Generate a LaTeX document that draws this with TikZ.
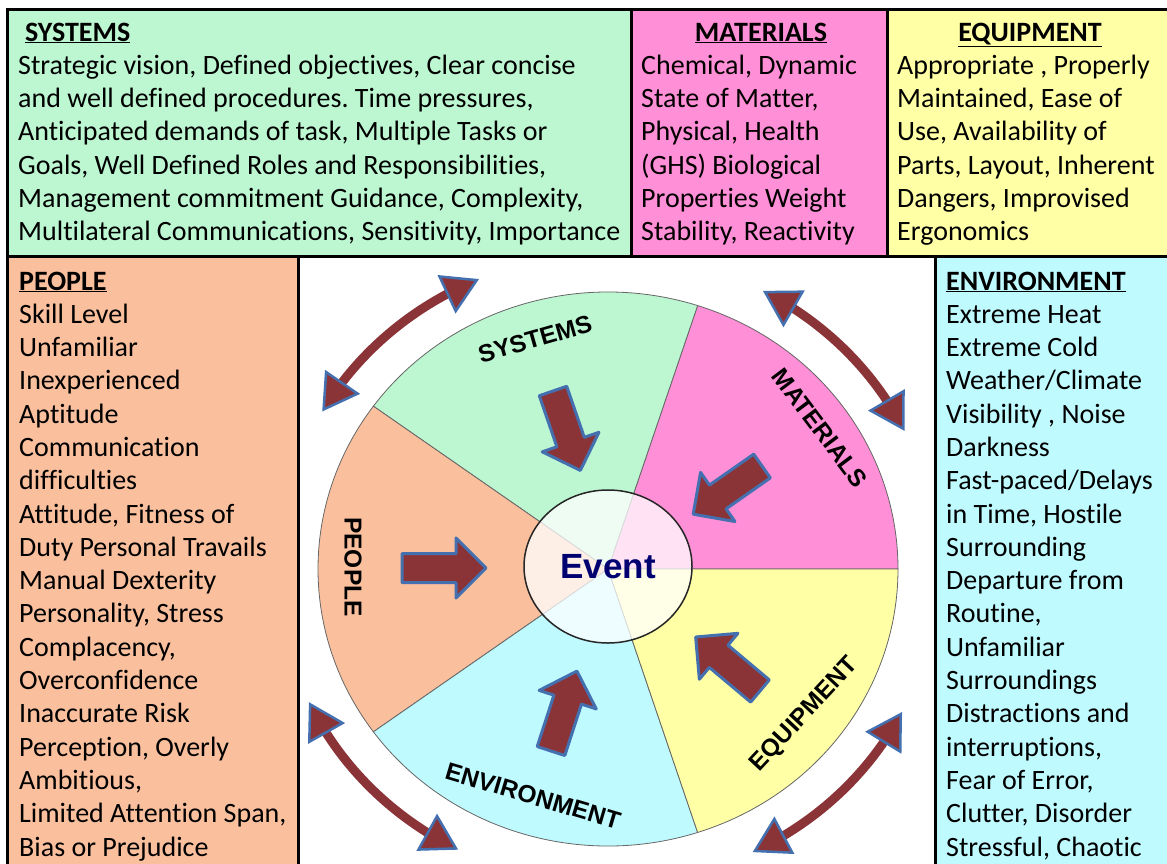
\documentclass[tikz,border=0pt]{standalone}
\usepackage{fontspec}
\setmainfont{Carlito}[Ligatures=NoCommon]
\newfontfamily\wheelfont{Liberation Sans}
\usetikzlibrary{shapes.geometric,arrows.meta,bending}
\frenchspacing

\definecolor{sysgreen}{RGB}{189,247,210}
\definecolor{matpink}{RGB}{255,143,214}
\definecolor{equyellow}{RGB}{255,255,166}
\definecolor{peopeach}{RGB}{250,192,158}
\definecolor{envcyan}{RGB}{191,250,255}
\definecolor{arrowred}{RGB}{139,52,56}
\definecolor{arrowblue}{RGB}{68,112,176}
\definecolor{eventblue}{RGB}{0,0,112}

\begin{document}
\begin{tikzpicture}[x=1pt, y=1pt,
	box/.style={draw=black, line width=3pt, anchor=north west, inner sep=0pt},
	boxhead/.style={font=\fontsize{28}{33.3}\selectfont\bfseries, inner sep=0pt},
	boxtext/.style={font=\fontsize{28}{33.3}\selectfont, align=left, inner sep=0pt, anchor=north west},
	sectorlabel/.style={font=\wheelfont\bfseries\fontsize{24.5}{28}\selectfont, inner sep=0pt},
	blockarrow/.style={fill=arrowred, draw=arrowblue, line width=3pt, line join=round},
	cyclearrow/.style={arrowred, line width=9pt,
		arrows={Triangle[length=36pt,width=42pt,line width=2.5pt,color=arrowblue,fill=arrowred]-Triangle[length=36pt,width=42pt,line width=2.5pt,color=arrowblue,fill=arrowred]}}]
	\useasboundingbox (0,0) rectangle (1167,-863);
	
	\node[box, fill=peopeach, minimum width=291, minimum height=625] (peoBox) at (6,-255) {};
	\node[box, fill=envcyan, minimum width=252, minimum height=625] (envBox) at (934,-255) {};
	\node[box, fill=sysgreen, minimum width=624, minimum height=247] (sysBox) at (6,-8) {};
	\node[box, fill=matpink, minimum width=256, minimum height=247] (matBox) at (630,-8) {};
	\node[box, fill=equyellow, minimum width=300, minimum height=247] (equBox) at (886,-8) {};
	
	\node[boxhead, anchor=base west] (sysHead) at (25,-41) {\underline{SYSTEMS}};
	\node[boxhead, anchor=base] (matHead) at (761,-41) {\underline{MATERIALS}};
	\node[boxhead, anchor=base] (equHead) at (1030,-41) {\underline{EQUIPMENT}};
	\node[boxhead, anchor=base west] (peoHead) at (19,-290) {\underline{PEOPLE}};
	\node[boxhead, anchor=base west] (envHead) at (946,-290) {\underline{ENVIRONMENT}};
	
	\node[boxtext] (sysBody) at (18,-50) {\rule{0pt}{24pt}Strategic vision, Defined objectives, Clear concise\\
		and well defined procedures. Time pressures,\\
		Anticipated demands of task, Multiple Tasks or\\
		Goals, Well Defined Roles and Responsibilities,\\
		Management commitment Guidance, Complexity,\\
		Multilateral Communications, Sensitivity, Importance};
	\node[boxtext] (matBody) at (641,-50) {\rule{0pt}{24pt}Chemical, Dynamic\\
		State of Matter,\\
		Physical, Health\\
		(GHS) Biological\\
		Properties Weight\\
		Stability, Reactivity};
	\node[boxtext] (equBody) at (897,-50) {\rule{0pt}{24pt}Appropriate , Properly\\
		Maintained, Ease of\\
		Use, Availability of\\
		Parts, Layout, Inherent\\
		Dangers, Improvised\\
		Ergonomics};
	\node[boxtext] (peoBody) at (19,-299) {\rule{0pt}{24pt}Skill Level\\
		Unfamiliar\\
		Inexperienced\\
		Aptitude\\
		Communication\\
		difficulties\\
		Attitude, Fitness of\\
		Duty Personal Travails\\
		Manual Dexterity\\
		Personality, Stress\\
		Complacency,\\
		Overconfidence\\
		Inaccurate Risk\\
		Perception, Overly\\
		Ambitious,\\
		Limited Attention Span,\\
		Bias or Prejudice};
	\node[boxtext] (envBody) at (946,-299) {\rule{0pt}{24pt}Extreme Heat\\
		Extreme Cold\\
		Weather/Climate\\
		Visibility , Noise\\
		Darkness\\
		Fast-paced/Delays\\
		in Time, Hostile\\
		Surrounding\\
		Departure from\\
		Routine,\\
		Unfamiliar\\
		Surroundings\\
		Distractions and\\
		interruptions,\\
		Fear of Error,\\
		Clutter, Disorder\\
		Stressful, Chaotic};
	
	\coordinate (wc) at (608,-569);
	\foreach \a/\col in {0/matpink, 72/sysgreen, 144/peopeach, 216/envcyan, 288/equyellow}
		\filldraw[fill=\col, draw=black!60, line width=0.8pt] (wc) -- ++(\a:290 and 277) arc[start angle=\a, delta angle=72, x radius=290, y radius=277] -- cycle;
	
	\foreach \tx/\ty/\ang in {553/391/-71, 762/466/215, 402/568/0, 551/751/72, 760/691/140}
		\draw[blockarrow, shift={(\tx,-\ty)}, rotate=\ang] (0,-14.5) -- (54,-14.5) -- (54,-30) -- (84,0) -- (54,30) -- (54,14.5) -- (0,14.5) -- cycle;
	
	\node[ellipse, draw=black!85, line width=1.5pt, fill=white, fill opacity=0.75, text opacity=1, minimum width=168, minimum height=153, inner sep=0pt, font=\wheelfont\bfseries\fontsize{35}{40}\selectfont, text=eventblue] (event) at (608,-566.5) {Event};
	
	\node[sectorlabel, rotate=16] (sysLabel) at (535,-339) {SYSTEMS};
	\node[sectorlabel, rotate=-53] (matLabel) at (820,-428) {MATERIALS};
	\node[sectorlabel, rotate=-90] (peoLabel) at (353,-567) {PEOPLE};
	\node[sectorlabel, rotate=-16.5] (envLabel) at (533,-796) {ENVIRONMENT};
	\node[sectorlabel, rotate=47] (equLabel) at (805,-715) {EQUIPMENT};
	
	\foreach \s/\e in {113/150, 62/26, 205/243, 333/296}
		\draw[cyclearrow, shift={(wc)}] (\s:330 and 315) arc[start angle=\s, end angle=\e, x radius=330, y radius=315];
\end{tikzpicture}
\end{document}
